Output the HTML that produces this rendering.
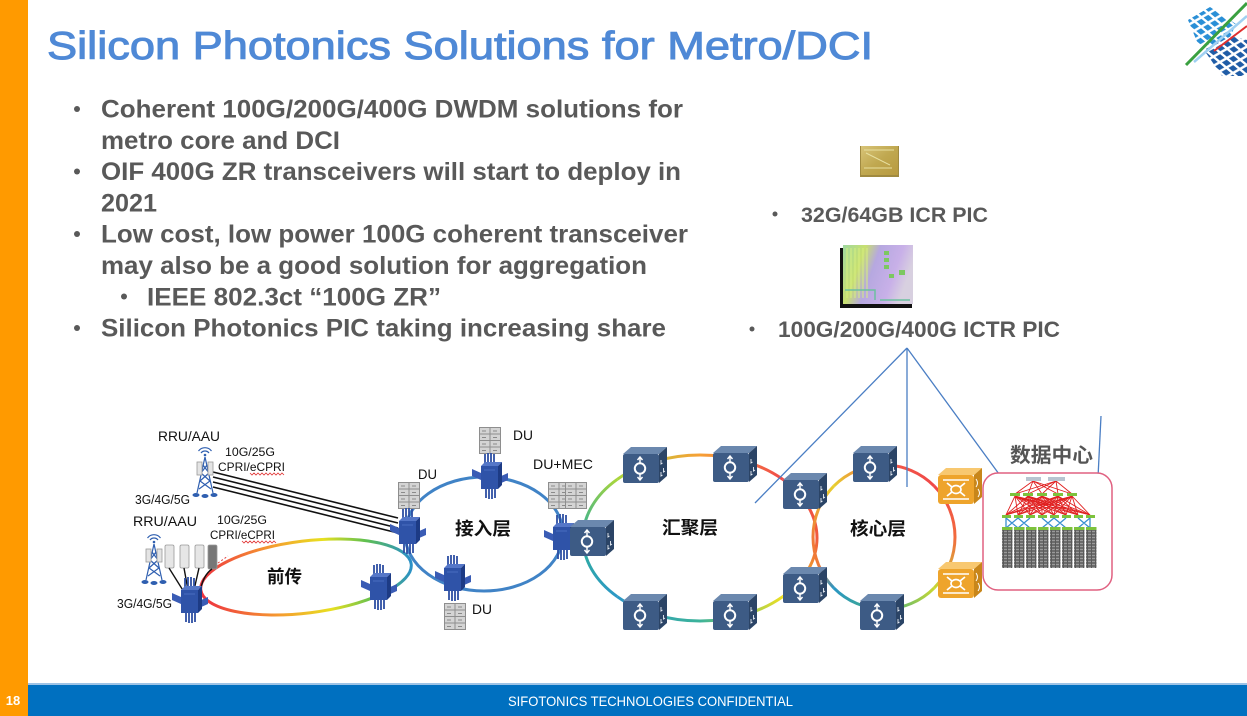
<!DOCTYPE html>
<html><head><meta charset="utf-8"><style>
html,body{margin:0;padding:0;background:#fff;}
svg{display:block;}
</style></head><body>
<svg width="1247" height="716" viewBox="0 0 1247 716" xmlns="http://www.w3.org/2000/svg" font-family="'Liberation Sans','Noto Sans CJK SC',sans-serif">
<defs>
<linearGradient id="fh" gradientUnits="userSpaceOnUse" x1="200" y1="0" x2="412" y2="0">
<stop offset="0" stop-color="#ee3040"/><stop offset="0.35" stop-color="#f59a30"/><stop offset="0.6" stop-color="#e8e020"/><stop offset="0.8" stop-color="#60c050"/><stop offset="1" stop-color="#2a90c8"/>
</linearGradient>
<linearGradient id="a0" gradientUnits="userSpaceOnUse" x1="817" y1="538" x2="782.7" y2="596.7"><stop offset="0" stop-color="#f15a3c"/><stop offset="1" stop-color="#efe020"/></linearGradient>
<linearGradient id="a1" gradientUnits="userSpaceOnUse" x1="782.7" y1="596.7" x2="700" y2="621"><stop offset="0" stop-color="#efe020"/><stop offset="1" stop-color="#3cb39a"/></linearGradient>
<linearGradient id="a2" gradientUnits="userSpaceOnUse" x1="700" y1="621" x2="617.3" y2="596.7"><stop offset="0" stop-color="#3cb39a"/><stop offset="1" stop-color="#2c98c6"/></linearGradient>
<linearGradient id="a3" gradientUnits="userSpaceOnUse" x1="617.3" y1="596.7" x2="583" y2="538"><stop offset="0" stop-color="#2c98c6"/><stop offset="1" stop-color="#2fae9a"/></linearGradient>
<linearGradient id="a4" gradientUnits="userSpaceOnUse" x1="583" y1="538" x2="617.3" y2="479.3"><stop offset="0" stop-color="#2fae9a"/><stop offset="1" stop-color="#a9d63c"/></linearGradient>
<linearGradient id="a5" gradientUnits="userSpaceOnUse" x1="617.3" y1="479.3" x2="700" y2="455"><stop offset="0" stop-color="#a9d63c"/><stop offset="1" stop-color="#f7a035"/></linearGradient>
<linearGradient id="a6" gradientUnits="userSpaceOnUse" x1="700" y1="455" x2="782.7" y2="479.3"><stop offset="0" stop-color="#f7a035"/><stop offset="1" stop-color="#f04a4a"/></linearGradient>
<linearGradient id="a7" gradientUnits="userSpaceOnUse" x1="782.7" y1="479.3" x2="817" y2="538"><stop offset="0" stop-color="#f04a4a"/><stop offset="1" stop-color="#f15a3c"/></linearGradient>
<linearGradient id="b0" gradientUnits="userSpaceOnUse" x1="955" y1="537" x2="934.2" y2="587.9"><stop offset="0" stop-color="#f26a3e"/><stop offset="1" stop-color="#c8d834"/></linearGradient>
<linearGradient id="b1" gradientUnits="userSpaceOnUse" x1="934.2" y1="587.9" x2="884" y2="609"><stop offset="0" stop-color="#c8d834"/><stop offset="1" stop-color="#45b080"/></linearGradient>
<linearGradient id="b2" gradientUnits="userSpaceOnUse" x1="884" y1="609" x2="833.8" y2="587.9"><stop offset="0" stop-color="#45b080"/><stop offset="1" stop-color="#2a96c4"/></linearGradient>
<linearGradient id="b3" gradientUnits="userSpaceOnUse" x1="833.8" y1="587.9" x2="813" y2="537"><stop offset="0" stop-color="#2a96c4"/><stop offset="0.5" stop-color="#f07a38"/><stop offset="1" stop-color="#f07a38"/></linearGradient>
<linearGradient id="b4" gradientUnits="userSpaceOnUse" x1="813" y1="537" x2="833.8" y2="486.1"><stop offset="0" stop-color="#f07a38"/><stop offset="1" stop-color="#e8cf30"/></linearGradient>
<linearGradient id="b5" gradientUnits="userSpaceOnUse" x1="833.8" y1="486.1" x2="884" y2="465"><stop offset="0" stop-color="#e8cf30"/><stop offset="1" stop-color="#f25a48"/></linearGradient>
<linearGradient id="b6" gradientUnits="userSpaceOnUse" x1="884" y1="465" x2="934.2" y2="486.1"><stop offset="0" stop-color="#f25a48"/><stop offset="1" stop-color="#f04848"/></linearGradient>
<linearGradient id="b7" gradientUnits="userSpaceOnUse" x1="934.2" y1="486.1" x2="955" y2="537"><stop offset="0" stop-color="#f04848"/><stop offset="1" stop-color="#f26a3e"/></linearGradient>

<linearGradient id="chipbig" x1="0" y1="0" x2="1" y2="0.3">
<stop offset="0" stop-color="#9fd8a0"/><stop offset="0.3" stop-color="#c8e070"/><stop offset="0.5" stop-color="#b6a8e0"/><stop offset="0.8" stop-color="#c8b0e8"/><stop offset="1" stop-color="#d8d0e0"/>
</linearGradient>
<linearGradient id="chipsmall" x1="0" y1="0" x2="1" y2="1">
<stop offset="0" stop-color="#d8c478"/><stop offset="0.5" stop-color="#c0a850"/><stop offset="1" stop-color="#b89a40"/>
</linearGradient>
<pattern id="rackp" width="4" height="3" patternUnits="userSpaceOnUse">
<rect width="4" height="3" fill="#6c6c6c"/><rect y="0" width="4" height="1" fill="#9a9a9a"/><rect x="3" width="1" height="3" fill="#5a5a5a"/>
</pattern>
<pattern id="dia1" width="8" height="8" patternUnits="userSpaceOnUse" patternTransform="rotate(-30) skewX(20)">
<rect width="8" height="8" fill="none"/><rect x="1" y="1" width="5.5" height="5.5" fill="#2a8fd6"/>
</pattern>
<pattern id="dia2" width="8" height="8" patternUnits="userSpaceOnUse" patternTransform="rotate(-30) skewX(20)">
<rect width="8" height="8" fill="none"/><rect x="1" y="1" width="5.5" height="5.5" fill="#1f5ca6"/>
</pattern>

<g id="sw">
<polygon points="0,8 8,1 44,1 36,8" fill="#6b88ae"/>
<polygon points="36,8 44,1 44,30 36,37" fill="#2b4466"/>
<rect x="0" y="8" width="36" height="29" rx="2" fill="#3d5b85"/>
<line x1="17" y1="11" x2="17" y2="34" stroke="#fff" stroke-width="1.5"/>
<circle cx="17" cy="22.5" r="5.2" fill="#3d5b85" stroke="#fff" stroke-width="2"/>
<polyline points="14.5,14 17,11 19.5,14" fill="none" stroke="#fff" stroke-width="1.4"/>
<polyline points="14.5,31 17,34 19.5,31" fill="none" stroke="#fff" stroke-width="1.4"/>
<path d="M38,26 l0,4 l1.5,-1 M40.5,22 l0,4 l1.5,-1 M38,14 l0,4 l1.5,-1" stroke="#e8eef6" stroke-width="0.9" fill="none"/>
</g>
<g id="osw">
<polygon points="0,8 8,1 44,1 36,8" fill="#f8c870"/>
<polygon points="36,8 44,1 44,30 36,37" fill="#c8861a"/>
<rect x="0" y="8" width="36" height="29" rx="3" fill="#eea42c"/>
<line x1="5" y1="13" x2="31" y2="13" stroke="#fff" stroke-width="1.6"/>
<line x1="5" y1="32" x2="31" y2="32" stroke="#fff" stroke-width="1.6"/>
<path d="M9,16 L14,20 Q18,17 22,20 L27,16 M9,29 L14,25 Q18,28 22,25 L27,29 M14,20 Q12,22.5 14,25 M22,20 Q24,22.5 22,25" stroke="#fff" stroke-width="1.7" fill="none"/>
<path d="M38,12 q3,4 0,8 M40,22 q3,4 0,8" stroke="#fff" stroke-width="1" fill="none"/>
</g>
<g id="chip">
<g stroke="#2d4fa3" stroke-width="1.8">
<line x1="-5" y1="-22" x2="-5" y2="-10"/><line x1="-2" y1="-23" x2="-2" y2="-10"/><line x1="1" y1="-23" x2="1" y2="-10"/><line x1="4" y1="-22" x2="4" y2="-10"/>
<line x1="-4" y1="10" x2="-4" y2="22"/><line x1="-1" y1="10" x2="-1" y2="23"/><line x1="2" y1="10" x2="2" y2="23"/><line x1="5" y1="10" x2="5" y2="22"/>
</g>
<polygon points="-18,-7 -9,-3 -9,4 -18,0" fill="#3a5cb5"/>
<polygon points="18,-3 9,1 9,8 18,4" fill="#3a5cb5"/>
<polygon points="-9,-10 -5,-14 12,-14 8,-10" fill="#5577c8"/>
<polygon points="8,-10 12,-14 12,9 8,13" fill="#1d3b85"/>
<rect x="-9" y="-10" width="17" height="23" fill="#2f53a8"/>
<line x1="-6" y1="-6" x2="5" y2="-6" stroke="#4a6cc0" stroke-width="1"/>
</g>
<g id="srv">
<rect x="0" y="0" width="22" height="27" fill="#8e8e8e"/>
<rect x="1" y="1" width="9.5" height="5.5" fill="#d4d4d4"/><rect x="11.5" y="1" width="9.5" height="5.5" fill="#d4d4d4"/>
<rect x="1" y="7.5" width="9.5" height="5.5" fill="#d4d4d4"/><rect x="11.5" y="7.5" width="9.5" height="5.5" fill="#d4d4d4"/>
<rect x="1" y="14" width="9.5" height="5.5" fill="#d4d4d4"/><rect x="11.5" y="14" width="9.5" height="5.5" fill="#d4d4d4"/>
<rect x="1" y="20.5" width="9.5" height="5.5" fill="#d4d4d4"/><rect x="11.5" y="20.5" width="9.5" height="5.5" fill="#d4d4d4"/>
<path d="M3,4 h4 M14,4 h4 M3,10.5 h4 M14,10.5 h4 M3,17 h4 M14,17 h4 M3,23.5 h4 M14,23.5 h4" stroke="#8a8a8a" stroke-width="1"/>
</g>
<g id="tower">
<g stroke="#2f5fb0" fill="none" stroke-width="1.2">
<path d="M-4,0 a5,5 0 0 1 8,0 M-6.5,-2 a8,8 0 0 1 13,0"/>
<path d="M0,4 L-8,40 M0,4 L8,40 M-2,12 L4,20 L-5,28 L6,36 M2,12 L-4,20 L5,28 L-6,36"/>
</g>
<circle cx="0" cy="2" r="1.3" fill="#2f5fb0"/>
<ellipse cx="-9" cy="42" rx="3.5" ry="2" fill="#2f5fb0"/><ellipse cx="0" cy="43" rx="3.5" ry="2" fill="#2f5fb0"/><ellipse cx="9" cy="42" rx="3.5" ry="2" fill="#2f5fb0"/>
<rect x="-8" y="9" width="5" height="13" fill="#e4e4e4" stroke="#9a9a9a" stroke-width="0.8"/>
<rect x="3" y="9" width="5" height="13" fill="#e4e4e4" stroke="#9a9a9a" stroke-width="0.8"/>
</g>
</defs>

<rect width="1247" height="716" fill="#fff"/>

<rect x="0" y="0" width="28" height="716" fill="#ff9a00"/>
<rect x="28" y="683" width="1219" height="2" fill="#9dc3e6"/>
<rect x="28" y="685" width="1219" height="31" fill="#0070c0"/>
<text x="13" y="705" font-size="13" font-weight="bold" fill="#fff" text-anchor="middle">18</text>
<text x="508" y="706" font-size="14" fill="#fff" textLength="285" lengthAdjust="spacingAndGlyphs">SIFOTONICS TECHNOLOGIES  CONFIDENTIAL</text>

<text x="47" y="59" font-size="39" fill="#4f89d6" stroke="#4f89d6" stroke-width="1" textLength="826" lengthAdjust="spacingAndGlyphs">Silicon Photonics Solutions for Metro/DCI</text>

<g>
<polygon points="1188,20 1210,7 1236,24 1226,46 1198,44" fill="url(#dia1)"/>
<polygon points="1204,50 1230,36 1247,40 1247,76 1222,76" fill="url(#dia2)"/>
<line x1="1186" y1="65" x2="1247" y2="3" stroke="#3aa040" stroke-width="3"/>
<line x1="1194" y1="62" x2="1247" y2="16" stroke="#9fd0f2" stroke-width="2.5"/>
<line x1="1214" y1="51" x2="1247" y2="26" stroke="#e03030" stroke-width="2"/>
</g>

<g font-size="25" font-weight="bold" fill="#595959">
<circle cx="77" cy="109" r="3"/>
<text x="101" y="117.5" textLength="582" lengthAdjust="spacingAndGlyphs">Coherent 100G/200G/400G DWDM solutions for</text>
<text x="101" y="148.8" textLength="239" lengthAdjust="spacingAndGlyphs">metro core and DCI</text>
<circle cx="77" cy="171.5" r="3"/>
<text x="101" y="180" textLength="580" lengthAdjust="spacingAndGlyphs">OIF 400G ZR transceivers will start to deploy in</text>
<text x="101" y="211.4" textLength="56" lengthAdjust="spacingAndGlyphs">2021</text>
<circle cx="77" cy="234" r="3"/>
<text x="101" y="242.7" textLength="587" lengthAdjust="spacingAndGlyphs">Low cost, low power 100G coherent transceiver</text>
<text x="101" y="274" textLength="546" lengthAdjust="spacingAndGlyphs">may also be a good solution for aggregation</text>
<circle cx="124" cy="296.5" r="3"/>
<text x="147" y="305.3" textLength="294" lengthAdjust="spacingAndGlyphs">IEEE 802.3ct “100G ZR”</text>
<circle cx="77" cy="328" r="3"/>
<text x="101" y="336.6" textLength="565" lengthAdjust="spacingAndGlyphs">Silicon Photonics PIC taking increasing share</text>
</g>

<rect x="860" y="146" width="39" height="31" fill="#a08a40"/>
<rect x="861" y="146" width="37" height="29" fill="url(#chipsmall)"/>
<path d="M864,150 h30 M866,153 l24,12 M864,168 h28" stroke="#e8e0a0" stroke-width="1" fill="none"/>
<rect x="840" y="248" width="72" height="60" fill="#111"/>
<rect x="843" y="245" width="70" height="59" fill="url(#chipbig)"/>
<path d="M847,248 v50 M851,248 v50 M855,248 v50 M859,248 v50 M863,248 v50 M867,248 v50" stroke="#d8f080" stroke-width="1.2" opacity="0.8"/>
<rect x="884" y="251" width="5" height="4" fill="#7cc860"/><rect x="884" y="258" width="5" height="4" fill="#7cc860"/><rect x="884" y="265" width="5" height="4" fill="#7cc860"/>
<rect x="899" y="270" width="6" height="5" fill="#7cc860"/><rect x="889" y="274" width="5" height="4" fill="#7cc860"/>
<path d="M845,290 h30 v10 M880,300 h30" stroke="#6cc0a0" stroke-width="1.5" fill="none"/>

<g font-size="21" font-weight="bold" fill="#595959">
<circle cx="775" cy="214" r="2.5"/>
<text x="801" y="222" textLength="187" lengthAdjust="spacingAndGlyphs">32G/64GB ICR PIC</text>
<circle cx="752" cy="329" r="2.5"/>
<text x="778" y="337" font-size="22" textLength="282" lengthAdjust="spacingAndGlyphs">100G/200G/400G  ICTR PIC</text>
</g>

<ellipse cx="306" cy="577" rx="106" ry="36" transform="rotate(-7 306 577)" fill="none" stroke="url(#fh)" stroke-width="3"/>
<ellipse cx="484" cy="534" rx="79" ry="57" fill="none" stroke="#4083c6" stroke-width="3"/>
<g fill="none" stroke-width="3">
<path d="M817,538 A117,83 0 0 1 782.7,596.7" stroke="url(#a0)"/>
<path d="M782.7,596.7 A117,83 0 0 1 700,621" stroke="url(#a1)"/>
<path d="M700,621 A117,83 0 0 1 617.3,596.7" stroke="url(#a2)"/>
<path d="M617.3,596.7 A117,83 0 0 1 583,538" stroke="url(#a3)"/>
<path d="M583,538 A117,83 0 0 1 617.3,479.3" stroke="url(#a4)"/>
<path d="M617.3,479.3 A117,83 0 0 1 700,455" stroke="url(#a5)"/>
<path d="M700,455 A117,83 0 0 1 782.7,479.3" stroke="url(#a6)"/>
<path d="M782.7,479.3 A117,83 0 0 1 817,538" stroke="url(#a7)"/>
<path d="M955,537 A71,72 0 0 1 934.2,587.9" stroke="url(#b0)"/>
<path d="M934.2,587.9 A71,72 0 0 1 884,609" stroke="url(#b1)"/>
<path d="M884,609 A71,72 0 0 1 833.8,587.9" stroke="url(#b2)"/>
<path d="M833.8,587.9 A71,72 0 0 1 813,537" stroke="url(#b3)"/>
<path d="M813,537 A71,72 0 0 1 833.8,486.1" stroke="url(#b4)"/>
<path d="M833.8,486.1 A71,72 0 0 1 884,465" stroke="url(#b5)"/>
<path d="M884,465 A71,72 0 0 1 934.2,486.1" stroke="url(#b6)"/>
<path d="M934.2,486.1 A71,72 0 0 1 955,537" stroke="url(#b7)"/>
</g>

<g stroke="#4a7ec4" stroke-width="1.3">
<line x1="907" y1="348" x2="755" y2="503"/>
<line x1="907" y1="348" x2="907" y2="487"/>
<line x1="907" y1="348" x2="1007" y2="485"/>
<line x1="1101" y1="416" x2="1097" y2="498"/>
</g>

<g stroke="#111" stroke-width="1.6">
<line x1="213" y1="472" x2="398" y2="518"/>
<line x1="213" y1="477" x2="398" y2="523"/>
<line x1="213" y1="482" x2="398" y2="528"/>
<line x1="213" y1="487" x2="398" y2="533"/>
</g>

<use href="#tower" x="205" y="453"/>
<use href="#tower" x="154" y="540"/>
<g stroke="#999" stroke-width="0.8">
<rect x="165" y="545" width="9" height="23" rx="1.5" fill="#e6e6e6"/>
<rect x="180" y="545" width="9" height="23" rx="1.5" fill="#e6e6e6"/>
<rect x="195" y="545" width="9" height="23" rx="1.5" fill="#e6e6e6"/>
<rect x="208" y="545" width="9" height="24" rx="1.5" fill="#777"/>
</g>
<g stroke="#111" stroke-width="1.4" fill="none">
<path d="M169,568 L184,592"/><path d="M184,568 L188,590"/><path d="M199,568 L194,590"/><path d="M212,569 Q203,575 200,592"/>
</g>
<path d="M218,563 L228,556" stroke="#e04040" stroke-width="1" stroke-dasharray="2,2"/>

<use href="#srv" x="398" y="482"/>
<use href="#srv" x="479" y="427"/>
<use href="#srv" x="548" y="482"/>
<use href="#srv" x="565" y="482"/>
<use href="#srv" x="444" y="603"/>

<use href="#chip" x="190" y="600"/>
<use href="#chip" x="379" y="587"/>
<use href="#chip" x="408" y="531"/>
<use href="#chip" x="490" y="476"/>
<use href="#chip" x="453" y="578"/>
<use href="#chip" x="562" y="537"/>

<use href="#sw" x="623" y="446"/>
<use href="#sw" x="713" y="445"/>
<use href="#sw" x="783" y="472"/>
<use href="#sw" x="570" y="519"/>
<use href="#sw" x="783" y="566"/>
<use href="#sw" x="623" y="593"/>
<use href="#sw" x="713" y="593"/>
<use href="#sw" x="853" y="445"/>
<use href="#sw" x="860" y="593"/>
<use href="#osw" x="938" y="467"/>
<use href="#osw" x="938" y="561"/>

<rect x="983" y="473" width="129" height="117" rx="15" fill="#fff" stroke="#e06080" stroke-width="1.5"/>
<g stroke="#e02020" stroke-width="0.9">
<path d="M1033,481 L1015,494 M1033,481 L1028,494 M1033,481 L1042,494 M1033,481 L1058,494 M1033,481 L1072,494 M1056,481 L1015,494 M1056,481 L1028,494 M1056,481 L1042,494 M1056,481 L1058,494 M1056,481 L1072,494"/>
<path d="M1015,496 L1006,515 M1015,496 L1030,515 M1015,496 L1054,515 M1015,496 L1078,515 M1015,496 L1018,515 M1015,496 L1042,515 M1015,496 L1066,515 M1015,496 L1090,515"/>
<path d="M1028,496 L1006,515 M1028,496 L1030,515 M1028,496 L1054,515 M1028,496 L1078,515 M1028,496 L1018,515 M1028,496 L1042,515 M1028,496 L1066,515 M1028,496 L1090,515"/>
<path d="M1042,496 L1006,515 M1042,496 L1030,515 M1042,496 L1054,515 M1042,496 L1078,515 M1042,496 L1018,515 M1042,496 L1042,515 M1042,496 L1066,515 M1042,496 L1090,515"/>
<path d="M1058,496 L1006,515 M1058,496 L1030,515 M1058,496 L1054,515 M1058,496 L1078,515 M1058,496 L1018,515 M1058,496 L1042,515 M1058,496 L1066,515 M1058,496 L1090,515"/>
<path d="M1072,496 L1006,515 M1072,496 L1030,515 M1072,496 L1054,515 M1072,496 L1078,515 M1072,496 L1018,515 M1072,496 L1042,515 M1072,496 L1066,515 M1072,496 L1090,515"/>
</g>
<rect x="1026" y="477" width="15" height="4" fill="#b8c4d0"/>
<rect x="1048" y="477" width="17" height="4" fill="#b8c4d0"/>
<g fill="#7cc23c">
<rect x="1010" y="493" width="10" height="3"/><rect x="1023" y="493" width="10" height="3"/><rect x="1037" y="493" width="10" height="3"/><rect x="1053" y="493" width="10" height="3"/><rect x="1067" y="493" width="10" height="3"/>
<rect x="1002" y="515" width="9" height="3"/><rect x="1014" y="515" width="9" height="3"/><rect x="1026" y="515" width="9" height="3"/><rect x="1038" y="515" width="9" height="3"/><rect x="1050" y="515" width="9" height="3"/><rect x="1062" y="515" width="9" height="3"/><rect x="1074" y="515" width="9" height="3"/><rect x="1086" y="515" width="9" height="3"/>
</g>
<g stroke="#3a90d0" stroke-width="1.3">
<path d="M1006,518 L1018,528 M1018,518 L1006,528 M1018,518 L1030,528 M1030,518 L1018,528 M1042,518 L1054,528 M1054,518 L1042,528 M1054,518 L1066,528 M1066,518 L1054,528 M1078,518 L1090,528 M1090,518 L1078,528"/>
<path d="M1006,518 v10 M1090,518 v10"/>
</g>
<g fill="#7cc23c">
<rect x="1002" y="527" width="10.5" height="3"/><rect x="1014" y="527" width="10.5" height="3"/><rect x="1026" y="527" width="10.5" height="3"/><rect x="1038" y="527" width="10.5" height="3"/><rect x="1050" y="527" width="10.5" height="3"/><rect x="1062" y="527" width="10.5" height="3"/><rect x="1074" y="527" width="10.5" height="3"/><rect x="1086" y="527" width="10.5" height="3"/>
</g>
<g fill="url(#rackp)">
<rect x="1002" y="530" width="10.5" height="38"/><rect x="1014" y="530" width="10.5" height="38"/><rect x="1026" y="530" width="10.5" height="38"/><rect x="1038" y="530" width="10.5" height="38"/><rect x="1050" y="530" width="10.5" height="38"/><rect x="1062" y="530" width="10.5" height="38"/><rect x="1074" y="530" width="10.5" height="38"/><rect x="1086" y="530" width="10.5" height="38"/>
</g>

<g font-size="13.5" fill="#111">
<text x="158" y="441" textLength="62" lengthAdjust="spacingAndGlyphs">RRU/AAU</text>
<text x="225" y="456" font-size="12" textLength="50" lengthAdjust="spacingAndGlyphs">10G/25G</text>
<text x="218" y="471" font-size="12" textLength="67" lengthAdjust="spacingAndGlyphs">CPRI/eCPRI</text>
<text x="135" y="504" font-size="12.5" textLength="55" lengthAdjust="spacingAndGlyphs">3G/4G/5G</text>
<text x="133" y="526" textLength="64" lengthAdjust="spacingAndGlyphs">RRU/AAU</text>
<text x="217" y="524" font-size="12" textLength="50" lengthAdjust="spacingAndGlyphs">10G/25G</text>
<text x="210" y="539" font-size="12" textLength="65" lengthAdjust="spacingAndGlyphs">CPRI/eCPRI</text>
<text x="117" y="608" font-size="12.5" textLength="55" lengthAdjust="spacingAndGlyphs">3G/4G/5G</text>
<text x="418" y="479" font-size="14" textLength="19" lengthAdjust="spacingAndGlyphs">DU</text>
<text x="513" y="440" font-size="14" textLength="20" lengthAdjust="spacingAndGlyphs">DU</text>
<text x="533" y="469" font-size="14" textLength="60" lengthAdjust="spacingAndGlyphs">DU+MEC</text>
<text x="472" y="614" font-size="14" textLength="20" lengthAdjust="spacingAndGlyphs">DU</text>
</g>
<path d="M250,473 l2,2 l2,-2 l2,2 l2,-2 l2,2 l2,-2 l2,2 l2,-2 l2,2 l2,-2 l2,2 l2,-2 l2,2 l2,-2 l2,2 l2,-2 l2,2" stroke="#e03030" stroke-width="0.8" fill="none"/>
<path d="M242,541 l2,2 l2,-2 l2,2 l2,-2 l2,2 l2,-2 l2,2 l2,-2 l2,2 l2,-2 l2,2 l2,-2 l2,2 l2,-2 l2,2 l2,-2 l2,2" stroke="#e03030" stroke-width="0.8" fill="none"/>

<g font-size="18" font-weight="bold" fill="#111">
<text x="455" y="535" textLength="56" lengthAdjust="spacingAndGlyphs">接入层</text>
<text x="662" y="534" textLength="56" lengthAdjust="spacingAndGlyphs">汇聚层</text>
<text x="850" y="535" textLength="56" lengthAdjust="spacingAndGlyphs">核心层</text>
<text x="267" y="583" textLength="35" lengthAdjust="spacingAndGlyphs">前传</text>
</g>
<text x="1010" y="462" font-size="20" font-weight="bold" fill="#555" textLength="83" lengthAdjust="spacingAndGlyphs">数据中心</text>
</svg>
</body></html>
